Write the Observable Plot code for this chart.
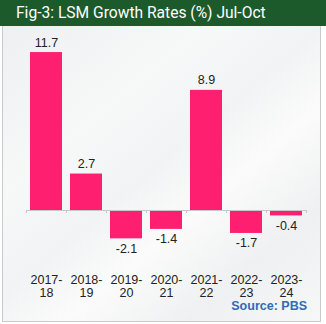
<!DOCTYPE html>
<html>
<head>
<meta charset="utf-8">
<script src="https://cdn.jsdelivr.net/npm/d3@7"></script>
<script src="https://cdn.jsdelivr.net/npm/@observablehq/plot@0.6"></script>
<style>
  html, body { margin: 0; padding: 0; background: #ffffff; }
  #wrap { position: relative; width: 326px; height: 324px; overflow: hidden; background: #fff; }
  #header { position: absolute; left: 0; top: 0; width: 326px; height: 26px; background: #1c5a2b; color: #fff;
    font-family: Roboto, "Liberation Sans", Arial, sans-serif; font-size: 15.6px; line-height: 26px; }
  #title { position: absolute; left: 16px; top: 0; white-space: nowrap; }
  #panel { position: absolute; left: 2px; top: 26px; width: 319px; height: 296px; box-sizing: border-box;
    border: 1px solid #c9cacb; border-top: none;
    background: linear-gradient(140deg, #eef0f1 0%, #f7f8f8 30%, #f2f3f4 48%, #fbfbfb 62%, #eff0f1 80%, #f6f7f7 100%); }
  #chart { position: absolute; left: 0; top: 0; width: 326px; height: 324px; }
  #chart svg { max-width: none !important; }
  #source { position: absolute; right: 19px; top: 299px; color: #2e6cb4; font-weight: bold;
    font-family: "Liberation Sans", Arial, sans-serif; font-size: 12.5px; }
</style>
</head>
<body>
<div id="wrap">
  <div id="header"><span id="title">Fig-3: LSM Growth Rates (%) Jul-Oct</span></div>
  <div id="panel"></div>
  <div id="chart"></div>
  <div id="source">Source: PBS</div>
</div>
<script>
const years = ["2017-18", "2018-19", "2019-20", "2020-21", "2021-22", "2022-23", "2023-24"];
const growth = [11.7, 2.7, -2.1, -1.4, 8.9, -1.7, -0.4];
const tickLabels = ["2017-\n18", "2018-\n19", "2019-\n20", "2020-\n21", "2021-\n22", "2022-\n23", "2023-\n24"];

const data = years.map((y, i) => ({year: y, value: growth[i]}));
const labelOf = new Map(years.map((y, i) => [y, tickLabels[i]]));

const chart = Plot.plot({
  width: 326,
  height: 324,
  marginTop: 34.5,
  marginBottom: 60,
  marginLeft: 26,
  marginRight: 20,
  style: {background: "transparent", fontFamily: "'Liberation Sans', Arial, sans-serif", fontSize: "12.5px", color: "#222"},
  x: {domain: years, paddingInner: 0.2, paddingOuter: 0.1, axis: null},
  y: {domain: [-4, 13], axis: null},
  marks: [
    Plot.barY(data, {x: "year", y: "value", fill: "#ff1f70"}),
    Plot.ruleY([0], {stroke: "#c6c7c8", strokeWidth: 1}),
    Plot.ruleX(years, {x: d => d, dx: -20, y1: 0, y2: -0.22, stroke: "#c6c7c8"}),
    Plot.ruleX([years[years.length - 1]], {x: d => d, dx: 20, y1: 0, y2: -0.22, stroke: "#c6c7c8"}),
    Plot.text(data.filter(d => d.value >= 0), {x: "year", y: "value", text: d => d.value.toFixed(1), dy: -10, fill: "#222", fontSize: 12.5}),
    Plot.text(data.filter(d => d.value < 0), {x: "year", y: "value", text: d => d.value.toFixed(1), dy: 10, fill: "#222", fontSize: 12.5}),
    Plot.axisX({anchor: "bottom", label: null, tickSize: 0, tickPadding: 10, tickFormat: d => labelOf.get(d), fontSize: 12.5, color: "#222", lineHeight: 1.05})
  ]
});
document.getElementById("chart").appendChild(chart);
</script>
</body>
</html>
